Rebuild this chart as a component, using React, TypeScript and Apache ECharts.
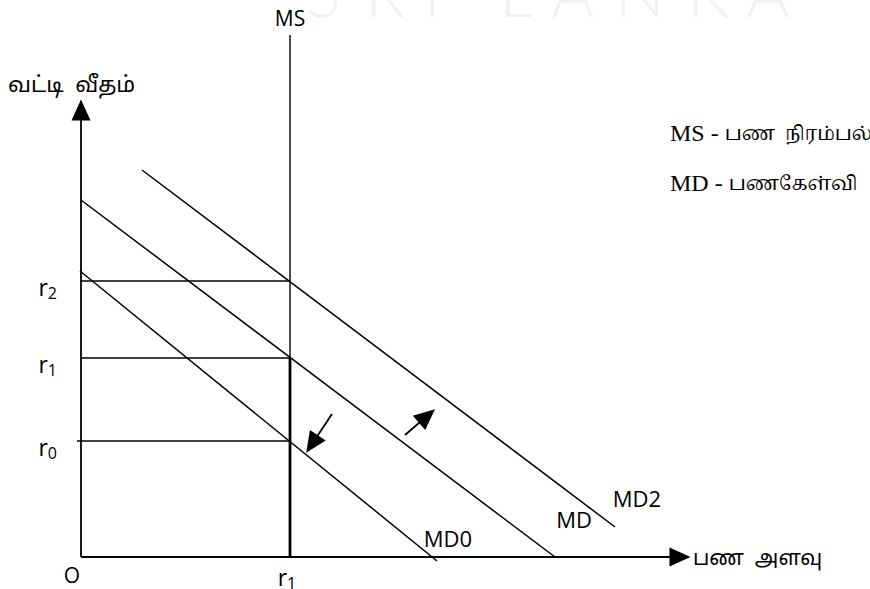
import React, { useEffect, useRef } from 'react';
import * as echarts from 'echarts';

// ---- data (chart units) ----
const rateNames = ['0', '1', '2'];
const rateLevels = [116, 199, 276];
const moneySupply = 209;
const moneySupplyTop = 522;
const demandNames = ['MD0', 'MD', 'MD2'];
const demandStart = [[-1, 286], [0, 357], [61, 387]];
const demandEnd = [[356, -4], [474, 0], [534, 30]];
const axisOrigin = [0, 0];
const xAxisTip = [599, 0];
const yAxisTip = [0, 447];
const shiftDown = [[251, 143], [231, 113]];
const shiftUp = [[324, 122], [346, 141]];
const xAxisTitle = 'பண  அளவு';
const yAxisTitle = 'வட்டி  வீதம்';
const legendKeys = ['MS', 'MD'];
const legendTexts = ['பண  நிரம்பல்', 'பணகேள்வி'];
const watermark = ['S', 'R', 'I', 'L', 'A', 'N', 'K', 'A'];

const SANS = '"Open Sans", "Noto Sans", "Noto Sans Tamil", sans-serif';
const SERIF = '"Liberation Serif", "Noto Serif Tamil", "Noto Sans Tamil", serif';

export default function App() {
  const ref = useRef<HTMLDivElement>(null);
  useEffect(() => {
    if (!ref.current) return;
    const chart = echarts.init(ref.current, undefined, { renderer: 'svg' });
    const black = '#000';
    const seg = (name: string, a: number[], b: number[], width: number) => ({
      name,
      type: 'line',
      data: [a, b],
      symbol: 'none',
      silent: true,
      clip: false,
      lineStyle: { color: black, width },
      z: 3,
    });
    const series: any[] = [];
    demandNames.forEach((n, i) => series.push(seg(n, demandStart[i], demandEnd[i], 1.5)));
    series.push(seg('MS', [moneySupply, 0], [moneySupply, moneySupplyTop], 1.4));
    series.push(seg('MS-bold', [moneySupply, 0], [moneySupply, rateLevels[1]], 2.8));
    rateNames.forEach((n, i) =>
      series.push(seg('r' + n, [i === 0 ? -4 : 0, rateLevels[i]], [moneySupply, rateLevels[i]], 1.5))
    );
    series.push({
      name: 'arrows',
      type: 'line',
      data: [axisOrigin],
      symbol: 'none',
      silent: true,
      markLine: {
        silent: true,
        animation: false,
        symbol: ['none', 'triangle'],
        symbolSize: [19, 21],
        label: { show: false },
        lineStyle: { color: black, width: 1.8, type: 'solid' },
        data: [
          [{ coord: axisOrigin }, { coord: xAxisTip }],
          [{ coord: axisOrigin }, { coord: yAxisTip }],
          [{ coord: shiftDown[0] }, { coord: shiftDown[1] }],
          [{ coord: shiftUp[0] }, { coord: shiftUp[1] }],
        ],
      },
    });

    chart.setOption({
      animation: false,
      backgroundColor: '#fff',
      grid: { left: 71, right: 178, top: 35, bottom: 12 },
      xAxis: { type: 'value', min: -10, max: 611, show: false },
      yAxis: { type: 'value', min: -20, max: 522, show: false },
      series,
    });

    const px = (p: number[]) => chart.convertToPixel({ gridIndex: 0 }, p) as number[];
    const o = px([0, 0]);
    const msPt = px([moneySupply, moneySupplyTop]);
    const texts: any[] = [];
    const txt = (text: string, x: number, y: number, size: number, align = 'center', family = SANS, rich?: any) => ({
      type: 'text',
      silent: true,
      z: 10,
      style: { text, x, y, fill: '#000', fontSize: size, fontFamily: family, align, verticalAlign: 'middle', rich },
    });
    const subRich = {
      a: { fontSize: 23, fontFamily: SANS, fill: '#000' },
      b: { fontSize: 16, fontFamily: SANS, fill: '#000', padding: [12, 0, 0, 0] },
    };
    const legendRich = {
      m: { fontSize: 24, fontFamily: SERIF, fill: '#000' },
      t: { fontSize: 19, fontFamily: SERIF, fill: '#000' },
    };
    // faint watermark along the top edge
    const wmX = [323, 385, 432, 516, 573, 640, 708, 768];
    watermark.forEach((c, i) =>
      texts.push({
        type: 'text', silent: true, z: 0,
        style: { text: c, x: wmX[i], y: 24, fill: '#f1f1f1', fontSize: 66, fontFamily: 'Lato', fontWeight: 300, align: 'center', verticalAlign: 'bottom' },
      })
    );
    texts.push(txt('MS', msPt[0], msPt[1] - 17, 21));
    rateNames.forEach((n, i) => {
      const p = px([0, rateLevels[i]]);
      texts.push(txt(`{a|r}{b|${n}}`, p[0] - 24, p[1] + 6, 23, 'right', SANS, subRich));
    });
    texts.push(txt('O', o[0] - 9, o[1] + 18, 21));
    const msBase = px([moneySupply, 0]);
    texts.push(txt('{a|r}{b|1}', msBase[0] - 3, msBase[1] + 20, 23, 'center', SANS, subRich));
    const labelOffsets = [[11, 23], [19, 38], [22, 29]];
    demandNames.forEach((n, i) => {
      const e = px(demandEnd[i]);
      texts.push(txt(n, e[0] + labelOffsets[i][0], e[1] - labelOffsets[i][1], 22));
    });
    const xt = px(xAxisTip);
    texts.push(txt(xAxisTitle, xt[0] + 13, xt[1], 21, 'left'));
    const yt = px(yAxisTip);
    texts.push(txt(yAxisTitle, 8, yt[1] - 27, 22, 'left'));
    legendKeys.forEach((k, i) =>
      texts.push(txt(`{m|${k} - }{t|${legendTexts[i]}}`, 670, 133 + i * 50, 24, 'left', SERIF, legendRich))
    );

    chart.setOption({ graphic: texts });
    return () => chart.dispose();
  }, []);
  return <div ref={ref} style={{ position: 'fixed', left: 0, top: 0, width: 870, height: 589 }} />;
}
